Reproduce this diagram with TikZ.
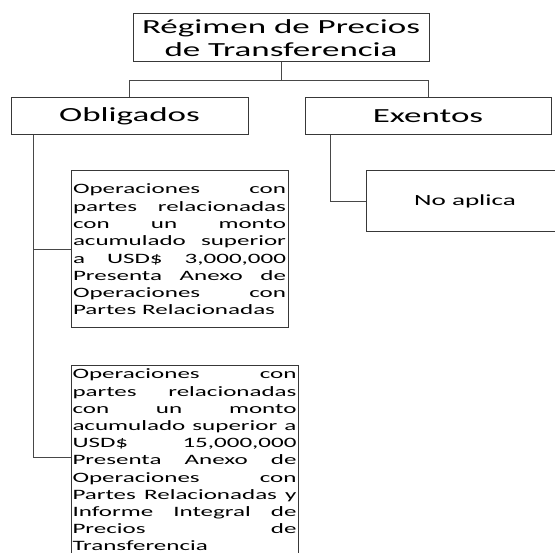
\documentclass[tikz,border=0pt]{standalone}
\usepackage{fontspec}
\setmainfont{Carlito}
\newfontfamily\widefont[FakeStretch=1.75]{Carlito}
\usetikzlibrary{positioning}

\tikzset{
  box/.style={draw=black!78, line width=1pt, inner sep=0pt, align=center,
    font=\widefont\fontsize{20}{23}\selectfont},
  textbox/.style={box, align=justify,
    font=\widefont\fontsize{14.3}{17.3}\selectfont,
    execute at begin node={\tolerance=10000\relax\hbadness=10000\relax}},
  link/.style={draw=black!72, line width=1pt},
}

\begin{document}
\begin{tikzpicture}[x=1pt, y=-1pt]
  \useasboundingbox (0,0) rectangle (555,553);
  \clip (0,0) rectangle (555,553);

  % boxes
  \node[box, minimum width=296, minimum height=48] (regimen) at (281,38) {Régimen de Precios\\de Transferencia};
  \node[box, minimum width=237, minimum height=37] (obligados) at (129.5,116.5) {Obligados};
  \node[box, minimum width=246, minimum height=37] (exentos) at (428,116.5) {Exentos};
  \node[textbox, text width=213pt, inner xsep=2pt, minimum height=157] (opuno) at (179.5,249.5)
    {Operaciones con\linebreak partes relacionadas\linebreak con un monto\linebreak acumulado superior\linebreak
     a USD\$ 3,000,000\linebreak Presenta Anexo de\linebreak Operaciones con\linebreak Partes Relacionadas};
  \node[textbox, text width=224pt, inner xsep=1.5pt, inner ysep=3.5pt, anchor=north,
        font=\widefont\fontsize{14.3}{17.2}\selectfont] (opdos) at (184.5,365)
    {Operaciones con\linebreak partes relacionadas\linebreak con un monto\linebreak acumulado superior a\linebreak
     USD\$ 15,000,000\linebreak Presenta Anexo de\linebreak Operaciones con\linebreak Partes Relacionadas y\linebreak
     Informe Integral de\linebreak Precios de\linebreak Transferencia\par\vspace*{10pt}};
  \node[box, minimum width=198, minimum height=61, font=\widefont\fontsize{15.5}{18}\selectfont] (noaplica) at (465,201.5) {No aplica};

  % connectors
  \draw[link] (regimen.south) -- ++(0,18) -| (obligados.north);
  \draw[link] (regimen.south) -- ++(0,18) -| (exentos.north);
  \draw[link] ([xshift=23pt]obligados.south west) |- (opuno.west);
  \draw[link] ([xshift=23pt]obligados.south west) |- ([yshift=-93pt]opdos.north west);
  \draw[link] ([xshift=26pt]exentos.south west) |- (noaplica.west);
\end{tikzpicture}
\end{document}
